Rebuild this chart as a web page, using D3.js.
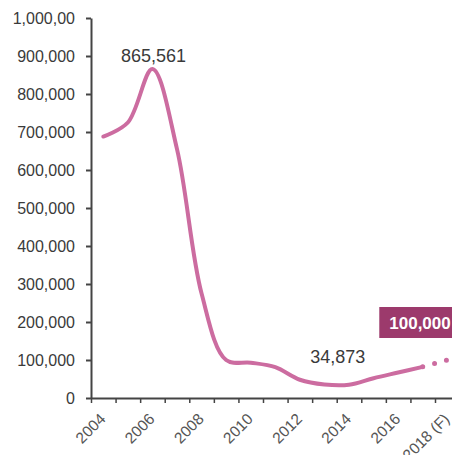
<!DOCTYPE html>
<html>
<head>
<meta charset="utf-8">
<script src="https://cdn.jsdelivr.net/npm/d3@7"></script>
<style>
  body { margin: 0; background: #fff; }
  svg { display: block; font-family: "Liberation Sans", Arial, sans-serif; }
</style>
</head>
<body>
<div id="chart"></div>
<script>
// --- Dados ---
const years = [2004.5, 2005.5, 2006.5, 2007.5, 2008.5, 2009.5, 2010.5, 2011.5, 2012.5, 2013.5, 2014.5, 2015.5, 2016.5, 2017.5];
const values = [688000, 725000, 865561, 655000, 275000, 100000, 93000, 81000, 48000, 35500, 34873, 52000, 67000, 82000];
const forecastYears = [2017.5, 2018.5];
const forecastValues = [82000, 100000];
const yTicks = [0, 100000, 200000, 300000, 400000, 500000, 600000, 700000, 800000, 900000, 1000000];
const yTickLabels = ["0", "100,000", "200,000", "300,000", "400,000", "500,000", "600,000", "700,000", "800,000", "900,000", "1,000,00"];
const xTicks = [2004, 2005, 2006, 2007, 2008, 2009, 2010, 2011, 2012, 2013, 2014, 2015, 2016, 2017, 2018];
const xTickLabels = { 2004: "2004", 2006: "2006", 2008: "2008", 2010: "2010", 2012: "2012", 2014: "2014", 2016: "2016", 2018: "2018 (F)" };

const width = 452, height = 455;
const lineColor = "#cc6ca0";
const textColor = "#3a3a3a";

const svg = d3.select("#chart").append("svg")
    .attr("width", width)
    .attr("height", height);

const x = d3.scaleLinear([2004, 2018.7], [91, 452.2]);
const y = d3.scaleLinear([0, 1000000], [398, 18]);

// eixo Y
const yAxis = svg.append("g")
    .attr("transform", `translate(${x(2004)},0)`)
    .call(d3.axisLeft(y).tickValues(yTicks).tickFormat((d, i) => yTickLabels[i]).tickSize(5).tickPadding(11).tickSizeOuter(0));
yAxis.select(".domain").attr("stroke", "#444").attr("stroke-width", 2);
yAxis.selectAll(".tick line").attr("stroke", "#444").attr("stroke-width", 2);
yAxis.selectAll("text").attr("fill", textColor).style("font-size", "16px").style("font-family", "Liberation Sans, Arial, sans-serif");

// eixo X
const xAxis = svg.append("g")
    .attr("transform", `translate(0,${y(0)})`)
    .call(d3.axisBottom(x).tickValues(xTicks).tickFormat(d => xTickLabels[d] || "").tickSize(5).tickSizeOuter(0));
xAxis.select(".domain").attr("stroke", "#444").attr("stroke-width", 2);
xAxis.selectAll(".tick line").attr("stroke", "#444").attr("stroke-width", 1.5);
xAxis.selectAll("text")
    .attr("fill", "#555")
    .style("font-size", "15.5px")
    .style("font-family", "Liberation Sans, Arial, sans-serif")
    .attr("text-anchor", "end")
    .attr("y", 0).attr("dy", 0)
    .attr("transform", "translate(15,22) rotate(-45)");

// linha principal
const line = d3.line()
    .x(d => x(d[0]))
    .y(d => y(d[1]))
    .curve(d3.curveCatmullRom.alpha(0.5));

svg.append("path")
    .datum(d3.zip(years, values))
    .attr("d", line)
    .attr("fill", "none")
    .attr("stroke", lineColor)
    .attr("stroke-width", 4)
    .attr("stroke-linecap", "round")
    .attr("stroke-linejoin", "round");

// previsão pontilhada
svg.append("path")
    .datum(d3.zip(forecastYears, forecastValues))
    .attr("d", d3.line().x(d => x(d[0])).y(d => y(d[1])))
    .attr("fill", "none")
    .attr("stroke", lineColor)
    .attr("stroke-width", 5)
    .attr("stroke-linecap", "round")
    .attr("stroke-dasharray", "0 12.3");

// rótulos
const peakIdx = values.indexOf(d3.max(values));
svg.append("text")
    .attr("x", x(years[peakIdx]) + 1)
    .attr("y", y(values[peakIdx]) - 7)
    .attr("text-anchor", "middle")
    .attr("fill", textColor)
    .style("font-size", "18px")
    .text(d3.format(",")(values[peakIdx]));

const minIdx = values.indexOf(d3.min(values));
svg.append("text")
    .attr("x", (x(years[minIdx]) + x(years[minIdx - 1])) / 2 + 1)
    .attr("y", y(values[minIdx]) - 22)
    .attr("text-anchor", "middle")
    .attr("fill", textColor)
    .style("font-size", "18px")
    .text(d3.format(",")(values[minIdx]));

// caixa 100,000
const fx = x(forecastYears[1]), fy = y(forecastValues[1]);
svg.append("rect")
    .attr("x", fx - 68)
    .attr("y", fy - 53)
    .attr("width", 90)
    .attr("height", 31)
    .attr("fill", "#9c3a6c");
svg.append("text")
    .attr("x", fx - 58)
    .attr("y", fy - 31)
    .attr("fill", "#fff")
    .style("font-size", "17px")
    .style("font-weight", "bold")
    .text(d3.format(",")(forecastValues[1]));
</script>
</body>
</html>
